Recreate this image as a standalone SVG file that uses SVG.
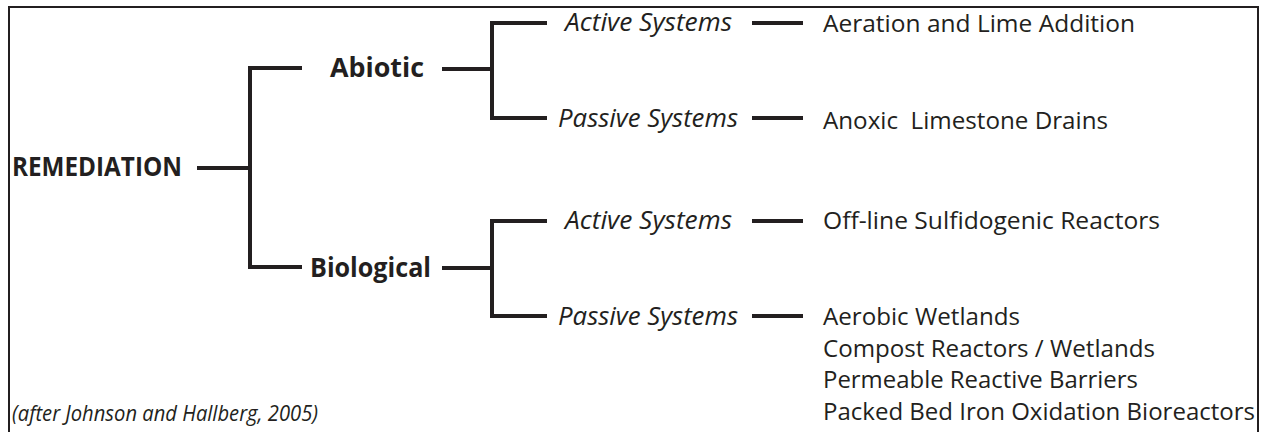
<svg xmlns="http://www.w3.org/2000/svg" width="1266" height="432" viewBox="0 0 1266 432">
<style>
.t{font-family:"Open Sans","Noto Sans","Liberation Sans",sans-serif;fill:#231f20}
.b{font-weight:700;font-size:26px}
.i{font-style:italic;font-weight:500;font-size:25px}
.r{font-size:24px;white-space:pre}
.f{font-style:italic;font-weight:400;font-size:21px}
.c{fill:none;stroke:#231f20;stroke-width:4;stroke-linecap:butt;stroke-linejoin:miter}
</style>
<rect width="1266" height="432" fill="#fff"/>
<rect x="9" y="7" width="1249" height="440" fill="none" stroke="#231f20" stroke-width="2"/>
<g id="connectors" class="c">
<path d="M197,168 H250"/>
<path d="M302,68 H250 V267 H302"/>
<path d="M442,69 H492"/>
<path d="M547,23 H492 V118 H547"/>
<path d="M752,23 H803"/>
<path d="M752,118 H803"/>
<path d="M442,268 H492"/>
<path d="M547,221 H492 V316 H547"/>
<path d="M752,221 H803"/>
<path d="M752,316 H803"/>
</g>
<g id="remediation"><text class="t b" x="12" y="176" textLength="170" lengthAdjust="spacingAndGlyphs">REMEDIATION</text></g>
<g id="abiotic"><text class="t b" x="330" y="77" textLength="94" lengthAdjust="spacingAndGlyphs">Abiotic</text></g>
<g id="biological"><text class="t b" x="310" y="277" textLength="121" lengthAdjust="spacingAndGlyphs">Biological</text></g>
<g id="abiotic-active"><text class="t i" x="565" y="31" textLength="167" lengthAdjust="spacingAndGlyphs">Active Systems</text></g>
<g id="abiotic-passive"><text class="t i" x="558" y="127" textLength="180" lengthAdjust="spacingAndGlyphs">Passive Systems</text></g>
<g id="bio-active"><text class="t i" x="565" y="229" textLength="167" lengthAdjust="spacingAndGlyphs">Active Systems</text></g>
<g id="bio-passive"><text class="t i" x="558" y="325" textLength="180" lengthAdjust="spacingAndGlyphs">Passive Systems</text></g>
<g id="aeration"><text class="t r" x="823" y="32" textLength="312" lengthAdjust="spacingAndGlyphs">Aeration and Lime Addition</text></g>
<g id="anoxic"><text class="t r" x="823" y="129" textLength="285" lengthAdjust="spacingAndGlyphs">Anoxic  Limestone Drains</text></g>
<g id="offline"><text class="t r" x="823" y="229" textLength="337" lengthAdjust="spacingAndGlyphs">Off-line Sulfidogenic Reactors</text></g>
<g id="passive-list">
<text class="t r" x="823" y="325" textLength="197" lengthAdjust="spacingAndGlyphs">Aerobic Wetlands</text>
<text class="t r" x="823" y="357" textLength="332" lengthAdjust="spacingAndGlyphs">Compost Reactors / Wetlands</text>
<text class="t r" x="823" y="388" textLength="315" lengthAdjust="spacingAndGlyphs">Permeable Reactive Barriers</text>
<text class="t r" x="823" y="420" textLength="432" lengthAdjust="spacingAndGlyphs">Packed Bed Iron Oxidation Bioreactors</text>
</g>
<g id="footnote"><text class="t f" x="12" y="421" textLength="306" lengthAdjust="spacingAndGlyphs">(after Johnson and Hallberg, 2005)</text></g>
</svg>
